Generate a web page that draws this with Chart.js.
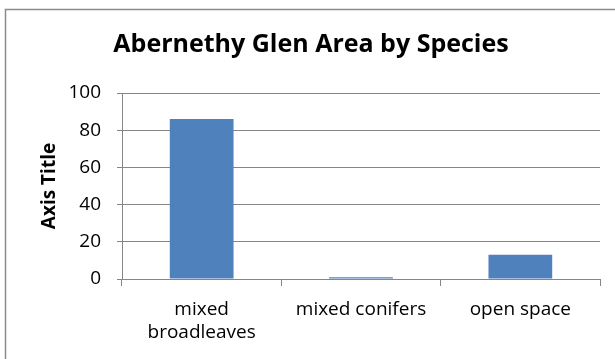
<!DOCTYPE html>
<html>
<head>
<meta charset="utf-8">
<script src="https://cdn.jsdelivr.net/npm/chart.js@4"></script>
<style>
  html, body { margin: 0; padding: 0; background: #fff; }
  #wrap { width: 615px; height: 359px; }
</style>
</head>
<body>
<div id="wrap"><canvas id="c" width="615" height="359"></canvas></div>
<script>
// Area per species group
const categories = [['mixed', 'broadleaves'], 'mixed conifers', 'open space'];
const areaValues = [86, 1, 13];
const yMin = 0;
const yMax = 100;
const yStep = 20;

const titleText = 'Abernethy Glen Area by Species';
const yAxisTitle = 'Axis Title';

const gridGrey = '#868686';
const barBlue = '#4f81bd';
const fontFamily = "'Open Sans', 'Noto Sans', sans-serif";

// Thin grey frame around the chart
const framePlugin = {
  id: 'frame',
  beforeDraw(chart) {
    const ctx = chart.ctx;
    ctx.save();
    ctx.fillStyle = '#ffffff';
    ctx.fillRect(0, 0, chart.width, chart.height);
    ctx.strokeStyle = '#8c8c8c';
    ctx.lineWidth = 1.5;
    ctx.strokeRect(5.5, 9.5, 700, 400);
    ctx.restore();
  }
};

new Chart(document.getElementById('c'), {
  type: 'bar',
  data: {
    labels: categories,
    datasets: [{
      data: areaValues,
      backgroundColor: barBlue,
      borderWidth: 0,
      barPercentage: 0.4,
      categoryPercentage: 1.0
    }]
  },
  options: {
    responsive: false,
    animation: false,
    layout: { padding: { left: 22, right: 15, top: 0, bottom: 0 } },
    plugins: {
      legend: { display: false },
      tooltip: { enabled: false },
      title: {
        display: true,
        text: titleText,
        color: '#000',
        font: { family: fontFamily, size: 25, weight: 'bold', lineHeight: 1.2 },
        padding: { top: 30, bottom: 33 }
      }
    },
    scales: {
      x: {
        offset: true,
        grid: {
          offset: true,
          drawOnChartArea: false,
          drawTicks: true,
          tickLength: 7,
          color: gridGrey
        },
        border: { display: true, color: gridGrey, width: 1 },
        ticks: {
          color: '#000',
          padding: 12,
          maxRotation: 0,
          autoSkip: false,
          font: { family: fontFamily, size: 19, lineHeight: 1.2 }
        },
        afterFit(s) { s.height = 80; }
      },
      y: {
        min: yMin,
        max: yMax,
        ticks: {
          stepSize: yStep,
          color: '#000',
          padding: 16,
          font: { family: fontFamily, size: 19 }
        },
        grid: { color: gridGrey, tickLength: 5 },
        border: { display: true, color: gridGrey, width: 1 },
        title: {
          display: true,
          text: yAxisTitle,
          color: '#000',
          padding: { top: 16, bottom: 4 },
          font: { family: fontFamily, size: 19, weight: 'bold', lineHeight: 1.2 }
        },
        afterFit(s) { s.width = 100; }
      }
    }
  },
  plugins: [framePlugin]
});
</script>
</body>
</html>
